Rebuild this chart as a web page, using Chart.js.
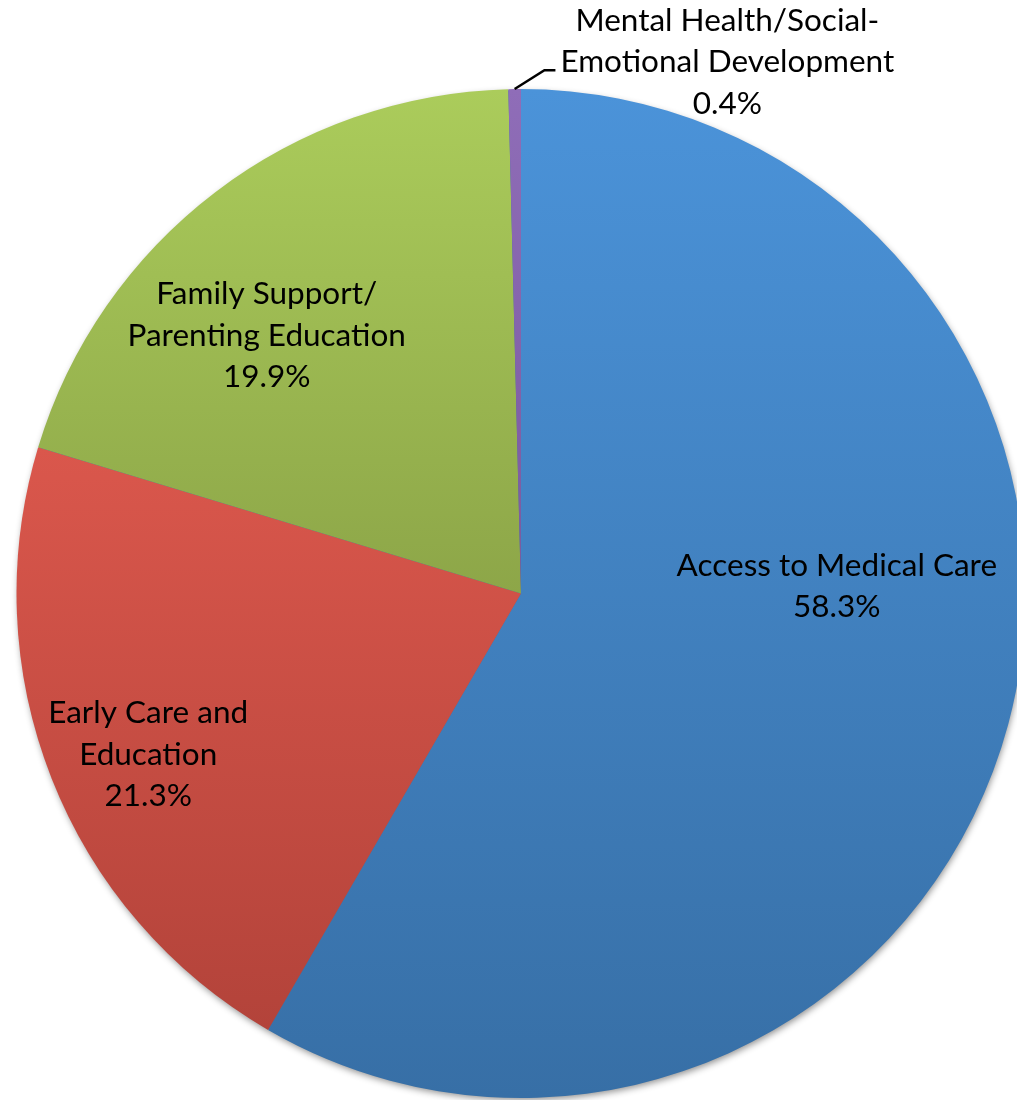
<!DOCTYPE html>
<html>
<head>
<meta charset="utf-8">
<script src="https://cdn.jsdelivr.net/npm/chart.js@4/dist/chart.umd.min.js"></script>
<style>
html,body{margin:0;padding:0;background:#fff;overflow:hidden;width:1017px;height:1100px;}
#wrap{position:absolute;left:0;top:0;width:1042px;height:1100px;}
</style>
</head>
<body>
<div id="wrap"><canvas id="c"></canvas></div>
<script>
// ---- data ----
const categories = ["Access to Medical Care", "Early Care and Education", "Family Support/ Parenting Education", "Mental Health/Social-Emotional Development"];
const values = [58.3, 21.3, 19.9, 0.4];
const labelLines = [
  ["Access to Medical Care", "58.3%"],
  ["Early Care and", "Education", "21.3%"],
  ["Family Support/", "Parenting Education", "19.9%"],
  ["Mental Health/Social-", "Emotional Development", "0.4%"]
];
// ---- styles ----
const topColors = ["#4B93D9", "#DA574C", "#ABCC5B", "#8F6DB8"];
const bottomColors = ["#376FA6", "#B3433A", "#8DA648", "#7A5A9E"];
// label block centre, in units of the radius, relative to pie centre
const labelOffsets = [[0.626, -0.014], [-0.739, 0.319], [-0.504, -0.511], [0.409, -1.053]];
const leader = [false, false, false, true];

function sliceYRange(i, cy, r) {
  const total = values.reduce((a, b) => a + b, 0);
  let before = 0;
  for (let k = 0; k < i; k++) before += values[k];
  const a0 = -Math.PI / 2 + before / total * 2 * Math.PI;
  const a1 = a0 + values[i] / total * 2 * Math.PI;
  let ys = [cy, cy + r * Math.sin(a0), cy + r * Math.sin(a1)];
  const inRange = a => { let t = a; while (t < a0) t += 2 * Math.PI; return t <= a1; };
  if (inRange(-Math.PI / 2)) ys.push(cy - r);
  if (inRange(Math.PI / 2)) ys.push(cy + r);
  return [Math.min(...ys), Math.max(...ys)];
}

const shadowPlugin = {
  id: 'shadow',
  beforeDatasetsDraw(chart) {
    const el = chart.getDatasetMeta(0).data[0];
    if (!el) return;
    const ctx = chart.ctx;
    ctx.save();
    ctx.shadowColor = 'rgba(0,0,0,0.45)';
    ctx.shadowBlur = 7;
    ctx.shadowOffsetX = 1;
    ctx.shadowOffsetY = 3;
    ctx.fillStyle = '#3A6FA5';
    ctx.beginPath();
    ctx.arc(el.x, el.y, el.outerRadius - 1, 0, Math.PI * 2);
    ctx.fill();
    ctx.restore();
  }
};

const labelPlugin = {
  id: 'labels',
  afterDatasetsDraw(chart) {
    const meta = chart.getDatasetMeta(0);
    const el0 = meta.data[0];
    const cx = el0.x, cy = el0.y, r = el0.outerRadius;
    const ctx = chart.ctx;
    ctx.save();
    ctx.font = '31.5px Lato, "Noto Sans", sans-serif';
    ctx.fillStyle = '#000';
    ctx.textAlign = 'center';
    ctx.textBaseline = 'middle';
    const lh = 41.5;
    labelLines.forEach((lines, i) => {
      const lx = cx + labelOffsets[i][0] * r;
      const ly = cy + labelOffsets[i][1] * r;
      const y0 = ly - (lines.length - 1) * lh / 2;
      lines.forEach((t, j) => ctx.fillText(t, lx, y0 + j * lh));
      if (leader[i]) {
        const el = meta.data[i];
        const mid = (el.startAngle + el.endAngle) / 2;
        const px = cx + Math.cos(mid) * r, py = cy + Math.sin(mid) * r;
        let w = 0; lines.forEach(t => { w = Math.max(w, ctx.measureText(t).width); });
        const ex = lx - w / 2 - 5;
        const ey = y0 + lh + 8;
        ctx.strokeStyle = '#000';
        ctx.lineWidth = 2.5;
        ctx.beginPath();
        ctx.moveTo(px, py);
        ctx.lineTo(ex - 11, ey);
        ctx.lineTo(ex, ey);
        ctx.stroke();
      }
    });
    ctx.restore();
  }
};

new Chart(document.getElementById('c'), {
  type: 'pie',
  data: {
    labels: categories,
    datasets: [{
      data: values,
      borderWidth: 0,
      backgroundColor: (context) => {
        const chart = context.chart;
        const area = chart.chartArea;
        if (!area) return topColors[context.dataIndex];
        const cy = (area.top + area.bottom) / 2;
        const r = Math.min(area.right - area.left, area.bottom - area.top) / 2;
        const [y0, y1] = sliceYRange(context.dataIndex, cy, r);
        const g = chart.ctx.createLinearGradient(0, y0, 0, y1);
        g.addColorStop(0, topColors[context.dataIndex]);
        g.addColorStop(1, bottomColors[context.dataIndex]);
        return g;
      }
    }]
  },
  options: {
    responsive: true,
    maintainAspectRatio: false,
    animation: false,
    layout: { padding: { top: 89, bottom: 2, left: 0, right: 0 } },
    plugins: { legend: { display: false }, tooltip: { enabled: false } }
  },
  plugins: [shadowPlugin, labelPlugin]
});
</script>
</body>
</html>
